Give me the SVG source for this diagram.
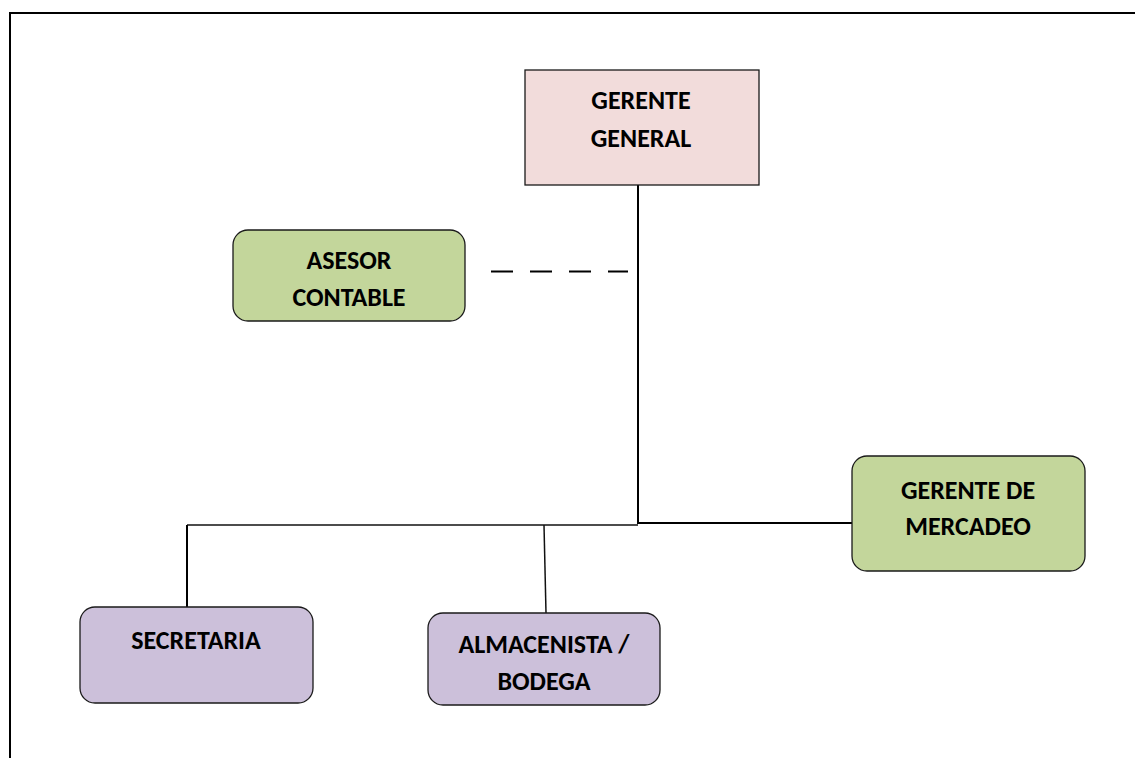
<svg xmlns="http://www.w3.org/2000/svg" width="1135" height="758" viewBox="0 0 1135 758">
  <style>
    .frame { fill: none; stroke: #000; stroke-width: 2; }
    .box { stroke: #1a1a1a; stroke-width: 1.3; }
    .pink { fill: #f2dcdb; }
    .green { fill: #c3d69b; }
    .purple { fill: #ccc0da; }
    .label { font-family: Carlito, Lato, "Liberation Sans", sans-serif; font-weight: bold; font-size: 26px; fill: #000; text-anchor: middle; }
    .link { fill: none; stroke: #000; stroke-width: 2; }
    .thin { fill: none; stroke: #111; stroke-width: 1.5; }
    .dashed { fill: none; stroke: #000; stroke-width: 2; stroke-dasharray: 22 17; }
  </style>
  <rect width="1135" height="758" fill="#fff"/>
  <!-- page border -->
  <path class="frame" d="M10,758 V13 H1135"/>

  <g id="connectors">
    <line class="link" x1="638" y1="185" x2="638" y2="524"/>
    <line class="link" x1="638" y1="523" x2="852" y2="523"/>
    <line class="thin" x1="187" y1="525" x2="638" y2="525"/>
    <line class="link" x1="187" y1="525" x2="187" y2="607"/>
    <line class="thin" x1="544" y1="525" x2="546" y2="613"/>
    <line class="dashed" x1="491" y1="271.5" x2="628" y2="271.5"/>
  </g>

  <g id="gerente-general">
    <rect class="box pink" x="525" y="70" width="234" height="115"/>
    <text class="label" x="641" y="109">GERENTE</text>
    <text class="label" x="641" y="147">GENERAL</text>
  </g>

  <g id="asesor-contable">
    <rect class="box green" x="233" y="230" width="232" height="91" rx="15"/>
    <text class="label" x="349" y="269">ASESOR</text>
    <text class="label" x="349" y="306">CONTABLE</text>
  </g>

  <g id="gerente-mercadeo">
    <rect class="box green" x="852" y="456" width="233" height="115" rx="15"/>
    <text class="label" x="968" y="499">GERENTE DE</text>
    <text class="label" x="968" y="535">MERCADEO</text>
  </g>

  <g id="secretaria">
    <rect class="box purple" x="80" y="607" width="233" height="96" rx="15"/>
    <text class="label" x="196" y="649">SECRETARIA</text>
  </g>

  <g id="almacenista">
    <rect class="box purple" x="428" y="613" width="232" height="92" rx="15"/>
    <text class="label" x="544" y="653">ALMACENISTA /</text>
    <text class="label" x="544" y="690">BODEGA</text>
  </g>
</svg>
